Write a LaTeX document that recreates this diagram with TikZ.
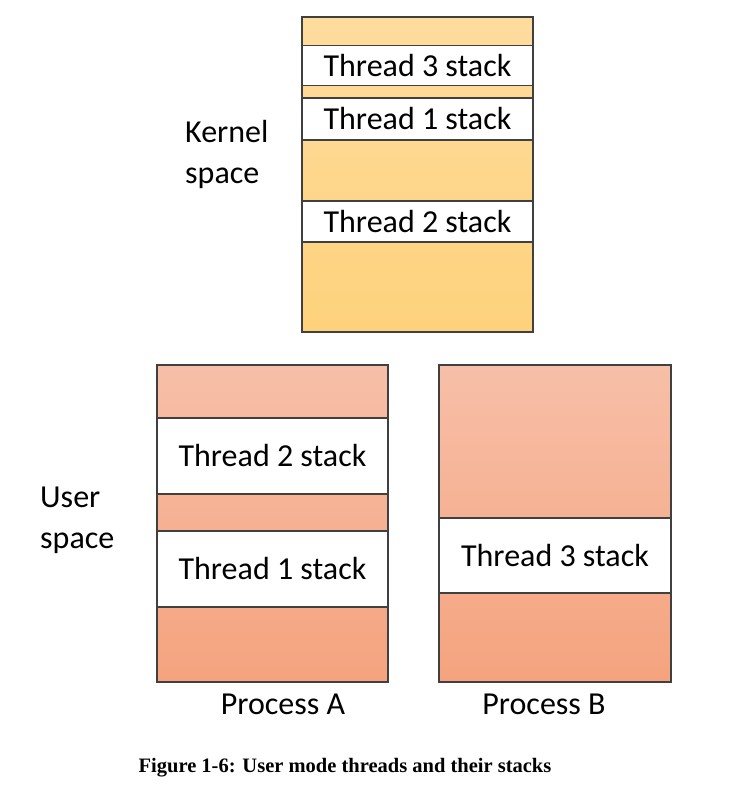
\documentclass[tikz,border=0pt]{standalone}
\usepackage{fontspec}
\setmainfont{Carlito}
\newfontfamily\fuentepie{Liberation Serif}
\usetikzlibrary{positioning}
\definecolor{cborde}{HTML}{404040}
\definecolor{cnucleoa}{HTML}{FEDC9E}
\definecolor{cnucleob}{HTML}{FED27C}
\definecolor{cusuarioa}{HTML}{F7BFA8}
\definecolor{cusuariob}{HTML}{F5A37E}
\newcommand{\fuenteg}{\fontsize{32}{41}\selectfont}
\tikzset{
  marco/.style={draw=cborde,line width=1.8pt},
  pila/.style={draw=cborde,fill=white,line width=1.5pt,minimum width=231pt,
               inner sep=0pt,font=\fuenteg},
  etiq/.style={font=\fuenteg,align=left,inner sep=0pt},
  pie/.style={font=\fuentepie\bfseries\fontsize{20.5}{24}\selectfont,inner sep=0pt},
}
\begin{document}
\begin{tikzpicture}[x=1pt,y=-1pt]
\useasboundingbox (0,0) rectangle (732,811);

% kernel space
\shade[top color=cnucleoa,bottom color=cnucleob] (302,17) rectangle (533,332);
\node[pila,minimum height=40pt] (k3) at (417.5,65.5) {Thread 3 stack};
\node[pila,minimum height=42pt] (k1) at (417.5,119) {Thread 1 stack};
\node[pila,minimum height=41pt] (k2) at (417.5,221.5) {Thread 2 stack};
\node[marco,minimum width=231pt,minimum height=315pt,inner sep=0pt] (nucleo) at (417.5,174.5) {};
\node[etiq,anchor=west] (tnucleo) at (185,154) {Kernel\\space};

% process A
\shade[top color=cusuarioa,bottom color=cusuariob] (157,365) rectangle (388,682);
\node[pila,minimum height=76pt] (a2) at (272.5,456) {Thread 2 stack};
\node[pila,minimum height=76pt] (a1) at (272.5,569) {Thread 1 stack};
\node[marco,minimum width=231pt,minimum height=317pt,inner sep=0pt] (procA) at (272.5,523.5) {};
\node[etiq,below=11pt of procA,xshift=10.5pt] (tprocA) {Process A};

% process B
\shade[top color=cusuarioa,bottom color=cusuariob] (439,365) rectangle (671,682);
\node[pila,minimum width=232pt,minimum height=75pt] (b3) at (555,555.5) {Thread 3 stack};
\node[marco,minimum width=232pt,minimum height=317pt,inner sep=0pt] (procB) at (555,523.5) {};
\node[etiq,below=11pt of procB,xshift=-11pt] (tprocB) {Process B};

\node[etiq,anchor=west] (tusuario) at (40,520) {User\\space};

\node[pie] (titulo) at (345,768) {Figure 1-6: User mode threads and their stacks};

\end{tikzpicture}
\end{document}
